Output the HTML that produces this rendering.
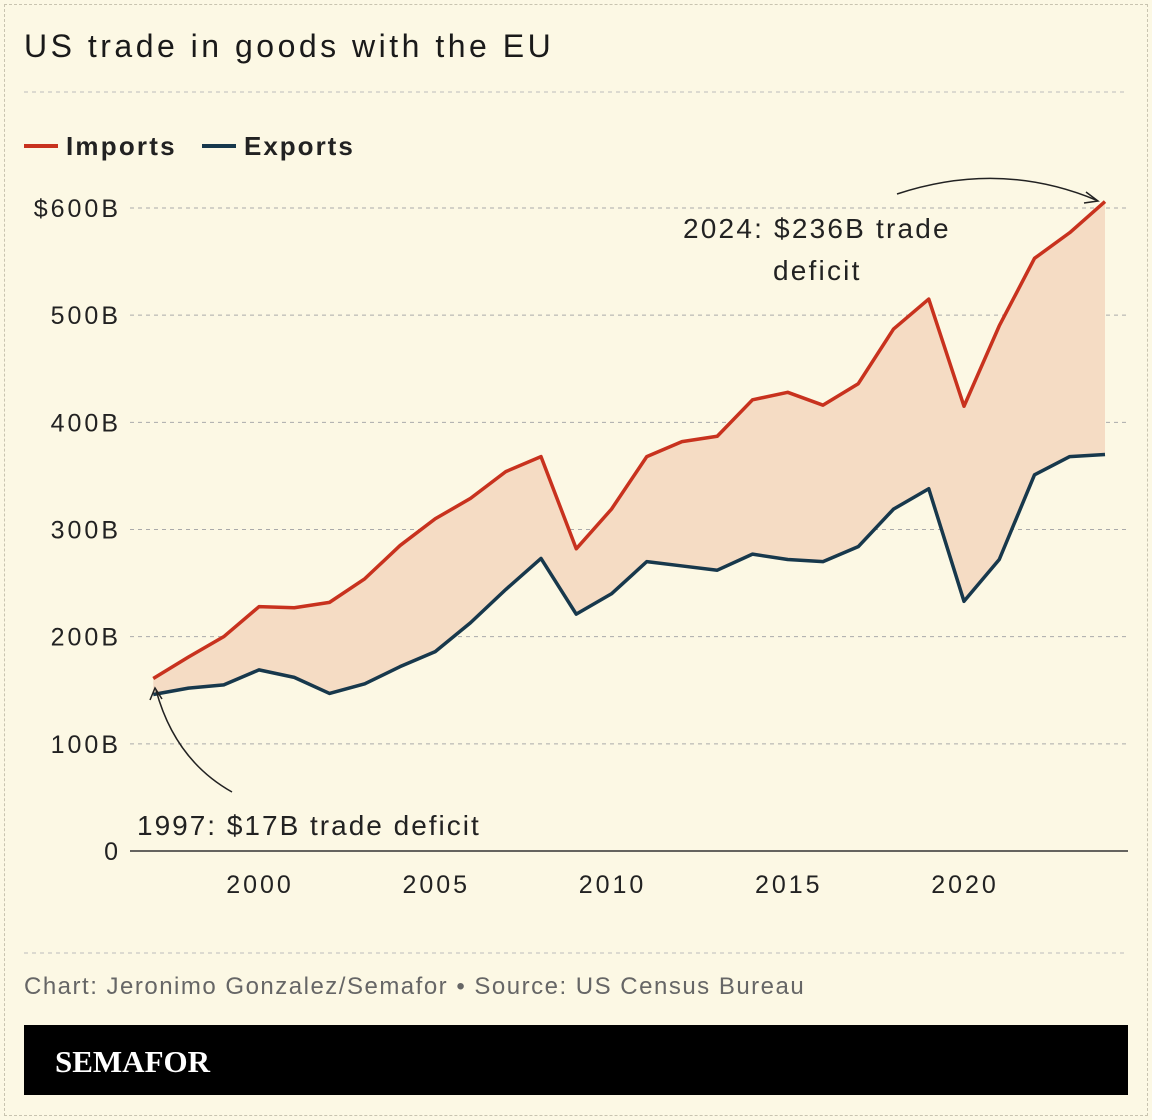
<!DOCTYPE html>
<html><head><meta charset="utf-8"><style>
body{margin:0;background:#fff;}
#c{position:relative;width:1152px;height:1120px;background:#fcf8e4;font-family:"Liberation Sans",sans-serif;overflow:hidden}
#frame{position:absolute;left:4px;top:4px;width:1142px;height:1110px;border:1px dashed #c9c4b0;}
</style></head><body>
<div id="c">
<div id="frame"></div>
<svg id="s" width="1152" height="1120" style="position:absolute;left:0;top:0">
<text x="24" y="57" font-size="32" letter-spacing="3.5" fill="#1a1a1a">US trade in goods with the EU</text>
<line x1="24" y1="92" x2="1128" y2="92" stroke="#bbb" stroke-dasharray="4,4"/>
<g><line x1="24" y1="146" x2="58" y2="146" stroke="#c8321e" stroke-width="4"/><text x="66" y="155" font-size="26" font-weight="bold" letter-spacing="2.2" fill="#222">Imports</text></g>
<g><line x1="202" y1="146" x2="236" y2="146" stroke="#17384c" stroke-width="4"/><text x="244" y="155" font-size="26" font-weight="bold" letter-spacing="2" fill="#222">Exports</text></g>
<g id="grid"></g><g id="plot"></g>
<line x1="24" y1="953" x2="1128" y2="953" stroke="#bbb" stroke-dasharray="4,4"/>
<text x="24" y="994" font-size="24" letter-spacing="1.5" fill="#666">Chart: Jeronimo Gonzalez/Semafor • Source: US Census Bureau</text>
<rect x="24" y="1025" width="1104" height="70" fill="#000"/>
<text x="55" y="1072" font-size="31" font-weight="bold" fill="#fff" font-family="Liberation Serif,serif">SEMAFOR</text>
</svg>
</div>
<script>
const years=[1997,1998,1999,2000,2001,2002,2003,2004,2005,2006,2007,2008,2009,2010,2011,2012,2013,2014,2015,2016,2017,2018,2019,2020,2021,2022,2023,2024];
const imports=[161,181,200,228,227,232,254,285,310,329,354,368,282,319,368,382,387,421,428,416,436,487,515,415,490,553,577,606];
const exports=[146,152,155,169,162,147,156,172,186,213,244,273,221,240,270,266,262,277,272,270,284,319,338,233,272,351,368,370];
const yTicks=[0,100,200,300,400,500,600];
const yTickLabels=["0","100B","200B","300B","400B","500B","$600B"];
const xTicks=[2000,2005,2010,2015,2020];
const NS="http://www.w3.org/2000/svg";
const X=v=>259+(v-2000)*35.25, Y=v=>851-v*1.0717;
function mk(t,a,p){const e=document.createElementNS(NS,t);for(const k in a)e.setAttribute(k,a[k]);p.appendChild(e);return e;}
const g=document.getElementById('grid'),p=document.getElementById('plot');
yTicks.forEach((v,i)=>{
 if(v>0){const l=mk('line',{x1:130,x2:1128,y1:Y(v),y2:Y(v),stroke:'#aaa','stroke-dasharray':'4,4'},g);
 
 }
 const t=mk('text',{x:121,y:Y(v)+9,'text-anchor':'end','font-size':25,'letter-spacing':3,fill:'#222'},g);t.textContent=yTickLabels[i];
 
 
});
const ax=mk('line',{x1:130,x2:1128,y1:851,y2:851,stroke:'#333','stroke-width':1.5},g);


xTicks.forEach(v=>{const t=mk('text',{x:X(v)+1,y:893,'text-anchor':'middle','font-size':25,'letter-spacing':3,fill:'#222'},g);t.textContent=v;
 
 });
const ip=years.map((y,i)=>X(y)+','+Y(imports[i])), ep=years.map((y,i)=>X(y)+','+Y(exports[i]));
const area=mk('polygon',{points:ip.concat(ep.slice().reverse()).join(' '),fill:'#f5dcc4'},p);


const li=mk('polyline',{points:ip.join(' '),fill:'none',stroke:'#c8321e','stroke-width':3.5,'stroke-linejoin':'round'},p);


const le=mk('polyline',{points:ep.join(' '),fill:'none',stroke:'#17384c','stroke-width':3.5,'stroke-linejoin':'round'},p);


const a1=mk('text',{x:683,y:238,'font-size':28,'letter-spacing':2.2,fill:'#222'},p);a1.textContent='2024: $236B trade';


const a1b=mk('text',{x:773,y:280,'font-size':28,'letter-spacing':2.2,fill:'#222'},p);a1b.textContent='deficit';


const a2=mk('text',{x:137,y:835,'font-size':28,'letter-spacing':2,fill:'#222'},p);a2.textContent='1997: $17B trade deficit';


const r1=mk('path',{d:'M897,194 Q1000,160 1096,200',fill:'none',stroke:'#222','stroke-width':1.5},p);


mk('path',{d:'M1086,192 L1098,201 L1084,203',fill:'none',stroke:'#222','stroke-width':1.5},p);
const r2=mk('path',{d:'M232,792 Q175,760 156,690',fill:'none',stroke:'#222','stroke-width':1.5},p);


mk('path',{d:'M150,700 L155,688 L162,699',fill:'none',stroke:'#222','stroke-width':1.5},p);
</script>
</body></html>
